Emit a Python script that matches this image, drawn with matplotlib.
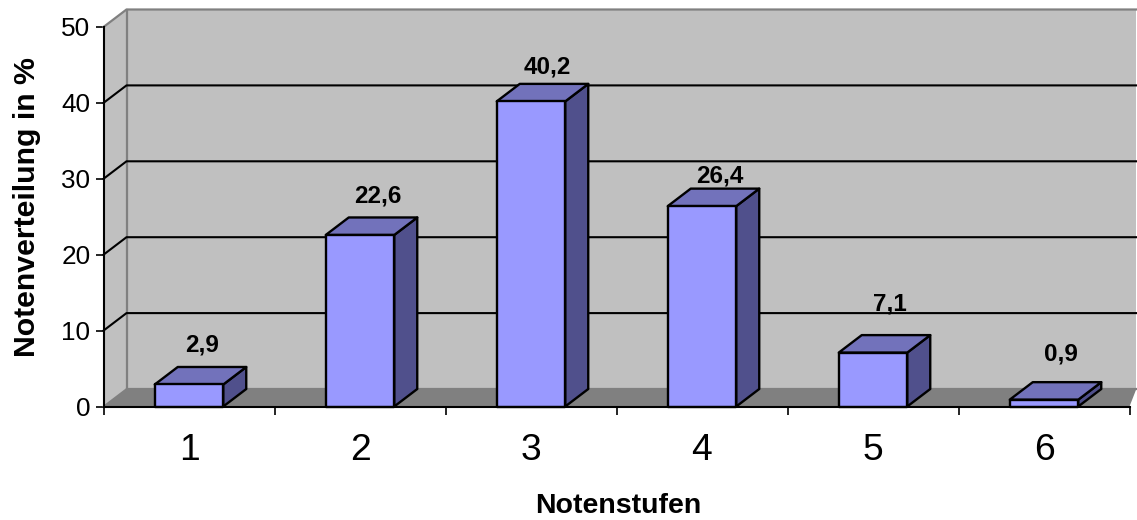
import matplotlib
matplotlib.use('Agg')
import matplotlib.pyplot as plt
from matplotlib.patches import Polygon

plt.rcParams['font.family'] = ['Liberation Sans', 'DejaVu Sans']

# data
noten = ['1', '2', '3', '4', '5', '6']
anteil = [2.9, 22.6, 40.2, 26.4, 7.1, 0.9]
anteil_text = ['2,9', '22,6', '40,2', '26,4', '7,1', '0,9']
y_ticks = [0, 10, 20, 30, 40, 50]

W, H = 1137, 520
X0, X1 = 103.5, 1129.5
Y0, Y50 = 406.5, 27.0
CAT = (X1 - X0) / 6
UNIT = (Y0 - Y50) / 50
# depth of the fake 3d box, in data units
DX = 23 / CAT
DY = 17.5 / UNIT
BAR_W = 68.5 / CAT

fig = plt.figure(figsize=(W / 100, H / 100), dpi=100)
ax = fig.add_axes([X0 / W, 1 - Y0 / H, (X1 - X0) / W, (Y0 - Y50) / H])
ax.set_xlim(0, 6)
ax.set_ylim(0, 50)
ax.patch.set_visible(False)


def poly(pts, fc, ec='none', lw=0, z=1):
    ax.add_patch(Polygon(pts, closed=True, facecolor=fc, edgecolor=ec,
                         linewidth=lw, zorder=z, clip_on=False, joinstyle='round'))


# walls + floor
xmax = 6.04
poly([(DX, DY), (xmax, DY), (xmax, 50 + DY), (DX, 50 + DY)], '#c0c0c0')
poly([(0, 0), (DX, DY), (DX, 50 + DY), (0, 50)], '#c0c0c0')
poly([(0, 0), (DX, DY), (xmax, DY), (6, 0)], '#808080')

# wall edges
grey = '#808080'
ax.plot([DX, DX], [DY, 50 + DY], color=grey, lw=1.6, clip_on=False, zorder=2)
ax.plot([0, DX, xmax], [50, 50 + DY, 50 + DY], color=grey, lw=1.6, clip_on=False, zorder=2)
ax.plot([DX, xmax], [DY, DY], color=grey, lw=1.6, clip_on=False, zorder=2)
ax.plot([0, DX], [0, DY], color=grey, lw=1.2, clip_on=False, zorder=2)

# gridlines
for t in y_ticks[1:-1]:
    ax.plot([0, DX, xmax], [t, t + DY, t + DY], color='black', lw=1.5, clip_on=False, zorder=3)

# bars
for i, v in enumerate(anteil):
    l = i + 0.5 - BAR_W / 2
    r = i + 0.5 + BAR_W / 2
    poly([(r, 0), (r + DX, DY), (r + DX, v + DY), (r, v)], '#50508c', 'black', 1.7, 4)
    poly([(l, v), (l + DX, v + DY), (r + DX, v + DY), (r, v)], '#7272bb', 'black', 1.7, 4)
    poly([(l, 0), (r, 0), (r, v), (l, v)], '#9999ff', 'black', 1.7, 5)

# value labels, nudged by hand (points)
nudge = [(1, 16), (4.5, 15.5), (3.2, 12), (4.5, 9), (4.2, 22.5), (4, 20)]
for i, v in enumerate(anteil):
    ax.annotate(anteil_text[i], (i + 0.5 + DX / 2, v + DY), xytext=nudge[i],
                textcoords='offset points', ha='center', va='center',
                fontsize=17.5, fontweight='bold', zorder=6)

# axes
for s in ['top', 'right']:
    ax.spines[s].set_visible(False)
for s in ['left', 'bottom']:
    ax.spines[s].set_linewidth(1.5)
    ax.spines[s].set_zorder(7)
ax.set_yticks(y_ticks)
ax.set_xticks(range(7))
ax.set_xticklabels([])
ax.set_xticks([i + 0.5 for i in range(6)], minor=True)
ax.set_xticklabels(noten, minor=True)
ax.tick_params(axis='x', which='minor', length=0, labelsize=26.8, pad=19)
ax.tick_params(axis='x', which='major', length=6, width=1.2, direction='out')
ax.tick_params(axis='y', length=6, width=1.2, labelsize=18.8, pad=3.5)

fig.text(618 / W, 1 - 506 / H, 'Notenstufen', ha='center', va='center',
         fontsize=20.5, fontweight='bold')
fig.text(27 / W, 1 - 207 / H, 'Notenverteilung in %', rotation=90, ha='center',
         va='center', fontsize=21.8, fontweight='bold')

fig.savefig('out.png', dpi=100)
